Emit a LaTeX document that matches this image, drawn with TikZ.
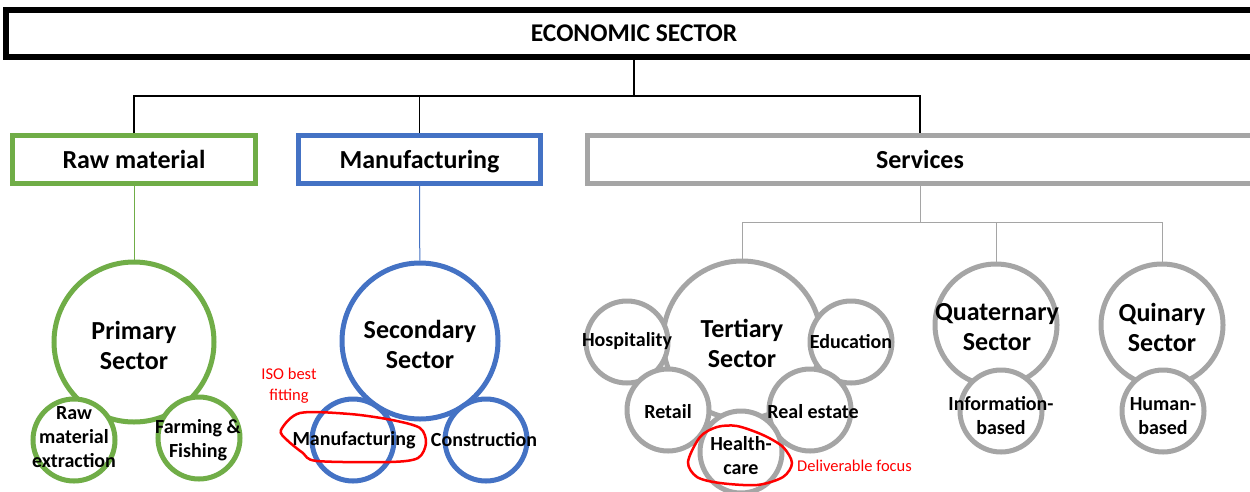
\documentclass[tikz,border=0pt]{standalone}
\usepackage{fontspec}
\setmainfont{Carlito}
\usetikzlibrary{positioning}
\definecolor{rawgreen}{HTML}{70AD47}
\definecolor{manblue}{HTML}{4472C4}
\definecolor{servgray}{HTML}{A5A5A5}
\definecolor{notered}{HTML}{FF0000}

\begin{document}
\begin{tikzpicture}[
  x=1pt,y=-1pt,
  every node/.style={align=center,inner sep=0pt},
  headbox/.style={draw=black,line width=6pt,minimum width=1256pt,
              minimum height=47pt,font=\fontsize{25.5}{30}\selectfont\bfseries},
  sectbox/.style={draw=#1,line width=5pt,fill=white,minimum height=48pt,
              text height=20pt,text depth=2pt,
              font=\fontsize{26}{30}\selectfont\bfseries},
  bigc/.style={circle,draw=#1,line width=5pt,fill=white,minimum size=160pt},
  midc/.style={circle,draw=#1,line width=5pt,fill=white,minimum size=122pt},
  smallc/.style={circle,draw=#1,line width=5pt,fill=white,minimum size=82pt},
  biglbl/.style={font=\fontsize{26}{30}\selectfont\bfseries},
  smalllbl/.style={font=\fontsize{20}{24}\selectfont\bfseries},
  note/.style={text=notered,font=\fontsize{16.5}{21}\selectfont},
  treeline/.style={line width=1.3pt},
  redloop/.style={draw=notered,line width=2.5pt}
]
\useasboundingbox[fill=white] (0,0) rectangle (1250,491);

% header and the three sector boxes
\node[headbox] (eco) at (634,33.5) {ECONOMIC SECTOR};
\node[sectbox=rawgreen,minimum width=243pt] (raw) at (134,159.5) {Raw material};
\node[sectbox=manblue,minimum width=242pt] (man) at (419.5,159.5) {Manufacturing};
\node[sectbox=servgray,minimum width=665pt] (serv) at (920,159.5) {Services};

\coordinate (ecoj) at (634,96);
\draw[treeline] (eco) -- (ecoj);
\draw[treeline] (ecoj) -| (raw);
\draw[treeline] (ecoj) -| (man);
\draw[treeline] (ecoj) -| (serv);

% primary
\node[bigc=rawgreen] (prim) at (134,342) {};
\node[smallc=rawgreen] (rawex) at (74,440) {};
\node[smallc=rawgreen] (farm) at (199,438) {};
\node[biglbl] (primlbl) at (134,345) {Primary\\Sector};
\node[smalllbl] (rawexlbl) at (74,437) {Raw\\material\\extraction};
\node[smalllbl] (farmlbl) at (198,440) {Farming \&\\Fishing};
\draw[treeline,line width=1pt,rawgreen] (raw) -- (prim);

% secondary
\node[bigc=manblue,minimum size=156pt] (sec) at (420,341) {};
\node[smallc=manblue] (manuf) at (353,440) {};
\node[smallc=manblue] (constr) at (486,440) {};
\node[biglbl] (seclbl) at (420,344) {Secondary\\Sector};
\node[smalllbl] (manuflbl) at (354,440) {Manufacturing};
\node[smalllbl] (constrlbl) at (484,440) {Construction};
\draw[treeline,line width=1pt,manblue] (man) -- (sec);
\node[note] (iso) at (289,386) {ISO best\\fitting};
\draw[redloop] plot[smooth cycle] coordinates {(281,430) (300,413) (350,414)
  (392,420) (420,428) (426,443) (418,458) (390,462) (317,461) (303,453)
  (287,440)};

% tertiary
\node[bigc=servgray,minimum size=158pt] (ter) at (742,340) {};
\node[smallc=servgray] (hosp) at (627,342) {};
\node[smallc=servgray] (edu) at (851,342) {};
\node[smallc=servgray] (retail) at (668,410) {};
\node[smallc=servgray] (estate) at (810,410) {};
\node[smallc=servgray] (health) at (741,452) {};
\node[biglbl] (terlbl) at (742,343) {Tertiary\\Sector};
\node[smalllbl] (hosplbl) at (627,341) {Hospitality};
\node[smalllbl] (edulbl) at (851,342) {Education};
\node[smalllbl] (retaillbl) at (668,412) {Retail};
\node[smalllbl] (estatelbl) at (813,412) {Real estate};
\node[smalllbl] (healthlbl) at (741,456) {Health-\\care};
\draw[redloop] plot[smooth cycle] coordinates {(688,462) (700,437) (717,427)
  (737,426) (763,435) (783,447) (792,463) (783,477) (757,485) (720,483)
  (697,477)};
\node[note,anchor=west] (focus) at (797,466) {Deliverable focus};

% quaternary and quinary
\node[midc=servgray] (quat) at (996,325) {};
\node[smallc=servgray] (info) at (1001,411) {};
\node[biglbl] (quatlbl) at (997,327) {Quaternary\\Sector};
\node[smalllbl] (infolbl) at (1001,416) {Information-\\based};
\node[midc=servgray] (quin) at (1162,325) {};
\node[smallc=servgray] (human) at (1163,411) {};
\node[biglbl] (quinlbl) at (1162,327) {Quinary\\Sector};
\node[smalllbl] (humanlbl) at (1163,416) {Human-\\based};

\coordinate (servj) at (920,222);
\draw[treeline,line width=1pt,servgray] (serv) -- (servj);
\draw[treeline,line width=1pt,servgray] (servj) -| (ter);
\draw[treeline,line width=1pt,servgray] (servj) -| (quat);
\draw[treeline,line width=1pt,servgray] (servj) -| (quin);
\end{tikzpicture}
\end{document}
